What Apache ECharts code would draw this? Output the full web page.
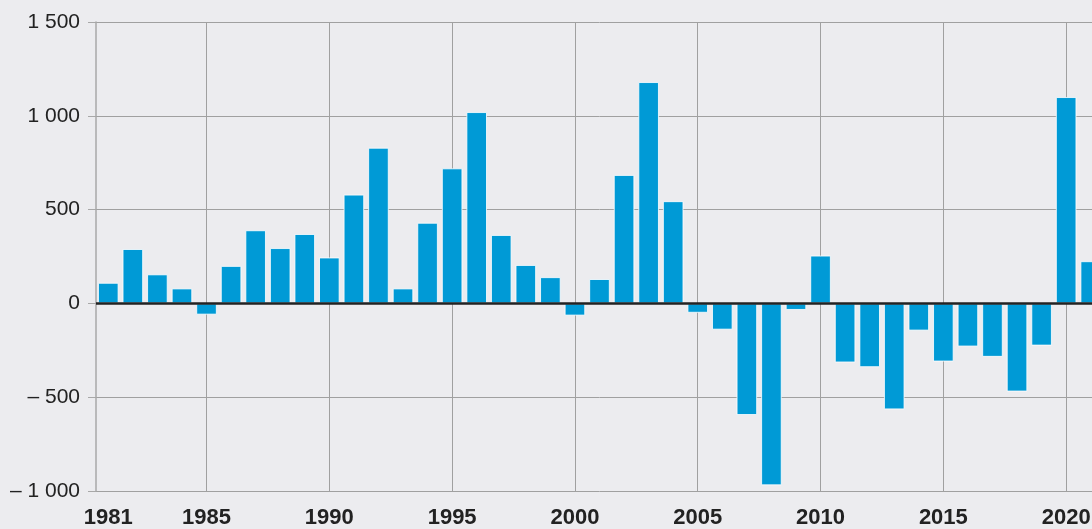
<!DOCTYPE html>
<html>
<head>
<meta charset="utf-8">
<script src="https://cdn.jsdelivr.net/npm/echarts@6/dist/echarts.min.js"></script>
<style>
    html, body { margin: 0; padding: 0; background: #ececef; overflow: hidden; }
    /* a bit wider than the window: the 2021 bar is cut off at the right edge */
    #myChart { width: 1103px; height: 529px; }
</style>
</head>
<body>
<div id="myChart"></div>
<script>
    // years on the x axis
    var years = ['1981', '1982', '1983', '1984', '1985', '1986', '1987', '1988', '1989', '1990',
        '1991', '1992', '1993', '1994', '1995', '1996', '1997', '1998', '1999', '2000',
        '2001', '2002', '2003', '2004', '2005', '2006', '2007', '2008', '2009', '2010',
        '2011', '2012', '2013', '2014', '2015', '2016', '2017', '2018', '2019', '2020', '2021'];
    var values = [110, 290, 155, 80, -60, 200, 390, 295, 370, 245,
        580, 830, 80, 430, 720, 1020, 365, 205, 140, -65,
        130, 685, 1180, 545, -50, -140, -595, -970, -35, 255,
        -315, -340, -565, -145, -310, -230, -285, -470, -225, 1100, 225];
    // years that get a label, and years that get a vertical grid line
    var labelYears = ['1981', '1985', '1990', '1995', '2000', '2005', '2010', '2015', '2020'];
    var gridYears = ['1985', '1990', '1995', '2000', '2005', '2010', '2015', '2020'];

    function fmt(v) {
        var s = String(Math.abs(v)).replace(/\B(?=(\d{3})+(?!\d))/g, ' ');
        return v < 0 ? '\u2013 ' + s : s;
    }

    var myChart = echarts.init(document.getElementById('myChart'));
    myChart.setOption({
        backgroundColor: '#ececef',
        animation: false,
        grid: { left: 96, right: 0, top: 22, bottom: 38 },
        xAxis: {
            type: 'category',
            data: years,
            boundaryGap: true,
            axisLine: { show: false },
            axisTick: {
                show: true,
                alignWithLabel: true,
                length: 7,
                lineStyle: { color: '#a0a0a0' },
                interval: function (i, v) { return gridYears.indexOf(v) >= 0; }
            },
            axisLabel: {
                interval: function (i, v) { return labelYears.indexOf(v) >= 0; },
                margin: 16,
                color: '#222',
                fontFamily: 'Liberation Sans',
                fontWeight: 'bold',
                fontSize: 22
            },
            splitLine: { show: false }
        },
        yAxis: {
            type: 'value',
            min: -1000,
            max: 1500,
            interval: 500,
            axisLine: { show: true, lineStyle: { color: '#a8a8a8', width: 1.5 } },
            axisTick: { show: true, length: 8, lineStyle: { color: '#a8a8a8' } },
            axisLabel: {
                margin: 16,
                color: '#222',
                fontFamily: 'Liberation Sans',
                fontSize: 21,
                formatter: fmt
            },
            splitLine: { show: true, lineStyle: { color: '#a0a0a0', width: 1 } }
        },
        series: [{
            type: 'bar',
            data: values,
            barWidth: '84%',
            itemStyle: {
                color: '#009ad6',
                borderColor: 'rgba(255,255,255,0.8)',
                borderWidth: 1
            },
            markLine: {
                z: 1,
                silent: true,
                symbol: 'none',
                label: { show: false },
                lineStyle: { color: '#a0a0a0', width: 1, type: 'solid' },
                data: gridYears.map(function (y) { return { xAxis: y }; })
            }
        }, {
            // zero line drawn over the bars
            type: 'line',
            data: [],
            markLine: {
                z: 10,
                silent: true,
                symbol: 'none',
                label: { show: false },
                lineStyle: { color: '#222', width: 2.5, type: 'solid' },
                data: [{ yAxis: 0 }]
            }
        }]
    });
</script>
</body>
</html>
